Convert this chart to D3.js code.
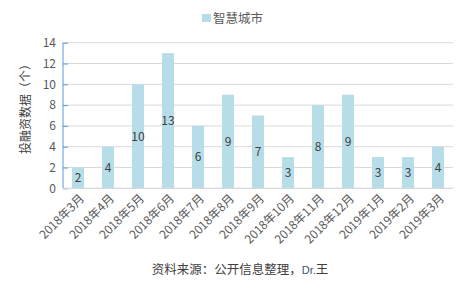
<!DOCTYPE html>
<html>
<head>
<meta charset="utf-8">
<script src="https://cdn.jsdelivr.net/npm/d3@7"></script>
<style>
body{margin:0;background:#fff}
svg text{font-family:"Noto Sans CJK SC","Microsoft YaHei",sans-serif}
</style>
</head>
<body>
<svg id="chart" width="467" height="288"></svg>
<script>
var months = ['2018年3月','2018年4月','2018年5月','2018年6月','2018年7月','2018年8月','2018年9月',
	'2018年10月','2018年11月','2018年12月','2019年1月','2019年2月','2019年3月']
var counts = [2,4,10,13,6,9,7,3,8,9,3,3,4]
var yTicks = [0,2,4,6,8,10,12,14]
var seriesName = '智慧城市'
var yTitle = '投融资数据（个）'
var source = '资料来源：公开信息整理，'

var svg = d3.select('svg#chart')
var plotLeft = 63, plotRight = 453, plotTop = 42.7, plotBottom = 188.3

var x = d3.scaleBand().domain(months).range([plotLeft,plotRight]).paddingInner(0.6).paddingOuter(0.3)
var y = d3.scaleLinear().domain([0,14]).range([plotBottom,plotTop])

// 网格线
svg.append('g').selectAll('line')
	.data(yTicks)
	.enter()
	.append('line')
	.attr('x1',plotLeft).attr('x2',plotRight)
	.attr('y1',d => y(d)).attr('y2',d => y(d))
	.attr('stroke','#d9d9d9').attr('stroke-width',1)

// 柱子
svg.append('g').selectAll('rect')
	.data(counts)
	.enter()
	.append('rect')
	.attr('x',(d,i) => x(months[i]))
	.attr('y',d => y(d))
	.attr('width',x.bandwidth())
	.attr('height',d => y(0) - y(d))
	.attr('fill','#b7dde8')

// 数据标签
svg.append('g').selectAll('text')
	.data(counts)
	.enter()
	.append('text')
	.attr('x',(d,i) => x(months[i]) + x.bandwidth()/2)
	.attr('y',d => (y(d) + y(0))/2)
	.attr('dy','0.35em')
	.attr('text-anchor','middle')
	.attr('font-size','12px')
	.attr('fill','#404040')
	.text(d => d)

// y轴
var yAxis = d3.axisRight(y).tickValues(yTicks).tickSize(5).tickFormat('')
var yg = svg.append('g').attr('transform','translate(' + plotLeft + ',0)').call(yAxis)
yg.select('.domain').attr('stroke','#5b9bd5').attr('d','M0,' + plotTop + 'V' + plotBottom)
yg.selectAll('.tick line').attr('stroke','#5b9bd5')
svg.append('g').selectAll('text')
	.data(yTicks)
	.enter()
	.append('text')
	.attr('x',plotLeft - 7)
	.attr('y',d => y(d))
	.attr('dy','0.35em')
	.attr('text-anchor','end')
	.attr('font-size','12px')
	.attr('fill','#595959')
	.text(d => d)

// x轴
svg.append('line')
	.attr('x1',plotLeft).attr('x2',plotRight)
	.attr('y1',plotBottom).attr('y2',plotBottom)
	.attr('stroke','#d9d9d9')
svg.append('g').selectAll('text')
	.data(months)
	.enter()
	.append('text')
	.attr('transform',d => 'translate(' + (x(d) + x.bandwidth()/2 + 4) + ',' + (plotBottom + 8) + ') rotate(-45)')
	.attr('text-anchor','end')
	.attr('dy','0.35em')
	.attr('font-size','12px')
	.attr('fill','#595959')
	.text(d => d)

// 图例
svg.append('rect').attr('x',202).attr('y',14).attr('width',9).attr('height',8).attr('fill','#b7dde8')
svg.append('text').attr('x',213).attr('y',18.5).attr('dy','0.35em')
	.attr('font-size','12.5px').attr('fill','#595959').text(seriesName)

// y轴标题
svg.append('text')
	.attr('transform','translate(26,106) rotate(-90)')
	.attr('text-anchor','middle')
	.attr('dy','0.35em')
	.attr('font-size','12px')
	.attr('fill','#404040')
	.text(yTitle)

// 资料来源
var src = svg.append('text').attr('x',240).attr('y',270).attr('dy','0.35em')
	.attr('text-anchor','middle').attr('font-size','12.5px').attr('fill','#404040')
src.append('tspan').text(source)
src.append('tspan').attr('font-size','11px').attr('fill','#44546a').attr('font-family','Liberation Sans, sans-serif').text('Dr.')
src.append('tspan').text('王')
</script>
</body>
</html>
